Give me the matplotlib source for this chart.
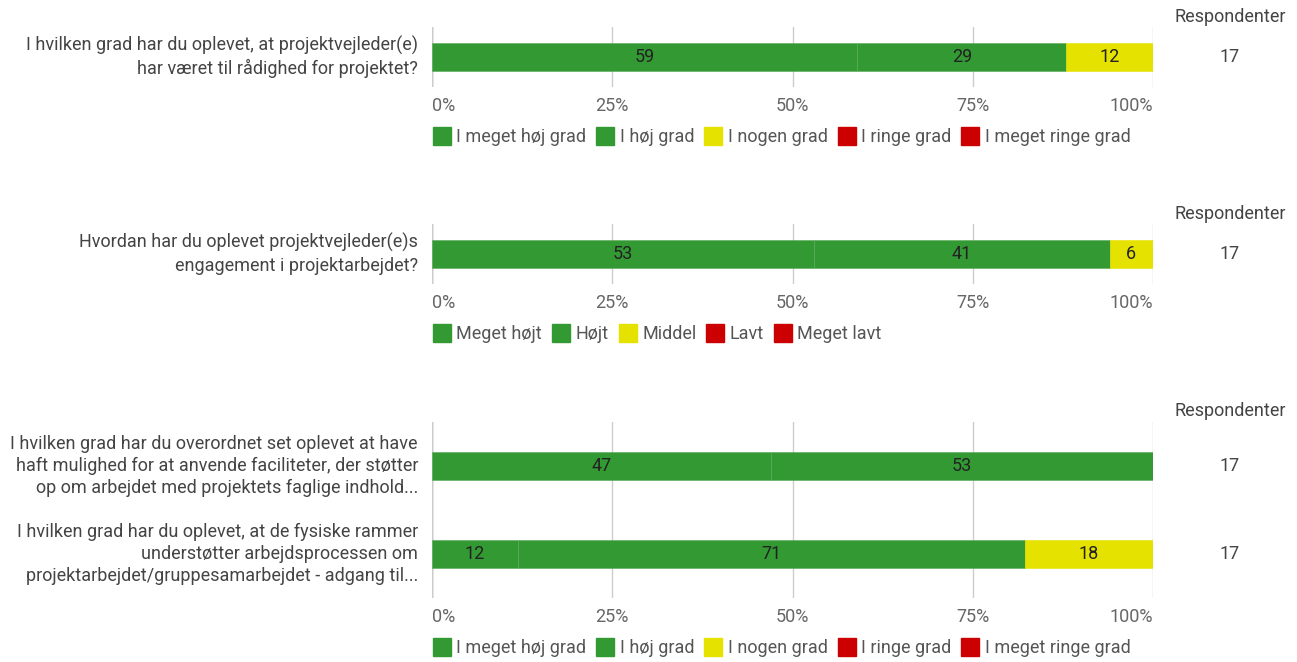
import numpy as np
import matplotlib.pyplot as plt
from matplotlib.lines import Line2D

plt.rcParams['font.family'] = ['Roboto', 'DejaVu Sans']

# data (percentages as shown on the bars)
q1_label = ["I hvilken grad har du oplevet, at projektvejleder(e)\nhar været til rådighed for projektet?"]
q1_values = [[59, 29, 12, 0, 0]]
q1_legend = ["I meget høj grad", "I høj grad", "I nogen grad", "I ringe grad", "I meget ringe grad"]

q2_label = ["Hvordan har du oplevet projektvejleder(e)s\nengagement i projektarbejdet?"]
q2_values = [[53, 41, 6, 0, 0]]
q2_legend = ["Meget højt", "Højt", "Middel", "Lavt", "Meget lavt"]

q3_labels = ["I hvilken grad har du overordnet set oplevet at have\nhaft mulighed for at anvende faciliteter, der støtter\nop om arbejdet med projektets faglige indhold...",
             "I hvilken grad har du oplevet, at de fysiske rammer\nunderstøtter arbejdsprocessen om\nprojektarbejdet/gruppesamarbejdet - adgang til..."]
q3_values = [[47, 53, 0, 0, 0], [12, 71, 18, 0, 0]]
q3_legend = ["I meget høj grad", "I høj grad", "I nogen grad", "I ringe grad", "I meget ringe grad"]

respondents = [[17], [17], [17, 17]]
colors = ["#339933", "#339933", "#e6e200", "#cc0000", "#cc0000"]

W, H = 1297, 662
fig = plt.figure(figsize=(W / 100, H / 100), dpi=100)
fig.patch.set_facecolor("white")

FS = 13


def px_axes(left, top, width, height):
    return fig.add_axes([left / W, 1 - (top + height) / H, width / W, height / H])


def draw_block(top, height, labels, values, legend, resp, legend_y, head_y):
    ax = px_axes(432, top, 721, height)
    n = len(labels)
    band = height / n
    bh = 28 / band
    for i, row in enumerate(values):
        tot = sum(row)
        left = 0
        for j, v in enumerate(row):
            w = v / tot * 100
            if w > 0:
                ax.barh(i, w, left=left, height=bh, color=colors[j],
                        edgecolor="#5aa85a" if j < 2 else colors[j], linewidth=0.4, zorder=2)
                ax.text(left + w / 2, i, str(v), ha="center", va="center",
                        fontsize=FS, color="#222222", zorder=3)
            left += w
        ycen = top + band * (i + 0.5)
        fig.text(418 / W, 1 - ycen / H, labels[i], ha="right", va="center",
                 fontsize=FS, color="#444444", linespacing=1.3)
        fig.text(1230 / W, 1 - ycen / H, str(resp[i]), ha="center", va="center",
                 fontsize=FS, color="#444444")
    fig.text(1230 / W, 1 - head_y / H, "Respondenter", ha="center", va="center",
             fontsize=FS, color="#444444")
    ax.set_xlim(0, 100)
    ax.set_ylim(n - 0.5, -0.5)
    ax.set_xticks([0, 25, 50, 75, 100])
    ax.set_xticklabels(["0%", "25%", "50%", "75%", "100%"])
    tl = ax.get_xticklabels()
    tl[0].set_ha("left")
    tl[-1].set_ha("right")
    ax.tick_params(axis="x", length=0, pad=7, labelsize=FS, labelcolor="#666666")
    ax.set_yticks([])
    ax.grid(axis="x", color="#cccccc", linewidth=1, zorder=0)
    ax.axvline(0, color="#999999", linewidth=1, zorder=1)
    for s in ax.spines.values():
        s.set_visible(False)
    handles = [Line2D([], [], marker="s", linestyle="none", markersize=12.5,
                      markerfacecolor=c, markeredgecolor=c) for c in colors]
    fig.legend(handles, legend, loc="center left", bbox_to_anchor=(424 / W, 1 - legend_y / H),
               ncol=5, frameon=False, fontsize=FS, handlelength=1.0, handletextpad=0.3,
               columnspacing=0.55, labelcolor="#555555", borderpad=0)
    return ax


draw_block(27, 60, q1_label, q1_values, q1_legend, respondents[0], 137, 17)
draw_block(224, 60, q2_label, q2_values, q2_legend, respondents[1], 334, 214)
draw_block(422, 176, q3_labels, q3_values, q3_legend, respondents[2], 648, 411)

fig.savefig("out.png", dpi=100, facecolor="white")
